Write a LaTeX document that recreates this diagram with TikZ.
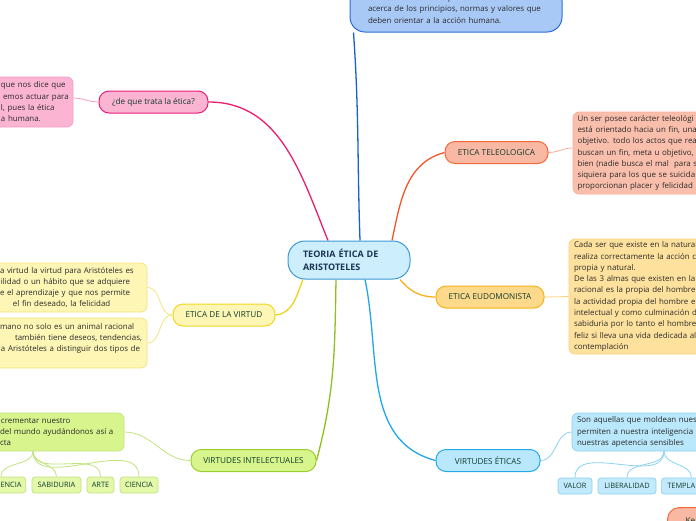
\documentclass[tikz,border=0pt]{standalone}
\usepackage{fontspec}
\setmainfont{Open Sans}
\usetikzlibrary{backgrounds}

\definecolor{labeltext}{HTML}{0F3B2D}
\definecolor{notetext}{HTML}{2B2B2B}
\definecolor{teoriafill}{HTML}{CDEEFC}
\definecolor{teoriaedge}{HTML}{3E9AD6}
\definecolor{teoriatext}{HTML}{1B3553}
\definecolor{deffill}{HTML}{A8C8F6}
\definecolor{defedge}{HTML}{2A6FD8}
\definecolor{defline}{HTML}{1A5FCF}
\definecolor{pinkfill}{HTML}{FBB4D2}
\definecolor{pinkedge}{HTML}{EA1D78}
\definecolor{pinkline}{HTML}{EA1D6E}
\definecolor{pinktwig}{HTML}{F59CC6}
\definecolor{teleofill}{HTML}{F9B8A3}
\definecolor{teleoedge}{HTML}{F4683A}
\definecolor{teleoline}{HTML}{F1572A}
\definecolor{teleotwig}{HTML}{F9AD95}
\definecolor{eudofill}{HTML}{FDD98B}
\definecolor{eudoedge}{HTML}{F5B31C}
\definecolor{eudonote}{HTML}{FEE19C}
\definecolor{eudotwig}{HTML}{FDD27C}
\definecolor{virtudfill}{HTML}{FDF6B4}
\definecolor{virtudedge}{HTML}{F1D722}
\definecolor{virtudline}{HTML}{EFD21C}
\definecolor{virtudtwig}{HTML}{F6E37C}
\definecolor{intelfill}{HTML}{D7F58C}
\definecolor{inteledge}{HTML}{9CCF2E}
\definecolor{intelline}{HTML}{8DC21E}
\definecolor{inteltwig}{HTML}{C1E27E}
\definecolor{intelleaf}{HTML}{E3F8A9}
\definecolor{eticasfill}{HTML}{B9E7FB}
\definecolor{eticasedge}{HTML}{21A9EA}
\definecolor{eticasline}{HTML}{1FA7E6}
\definecolor{eticastwig}{HTML}{8AD1F2}
\definecolor{eticasleaf}{HTML}{C3EAFC}

\newcommand{\frag}[2]{\hspace*{#1pt}\mbox{#2}}

\tikzset{
  topic/.style={draw, line width=1pt, rounded corners=10pt, minimum height=22pt,
    inner sep=0pt, text=labeltext, font=\fontsize{8.2}{9}\selectfont},
  note/.style={draw, line width=0.7pt, rounded corners=6pt, align=left,
    inner xsep=5pt, inner ysep=0pt, text=notetext, font=\fontsize{7.9}{11.3}\selectfont},
  leaf/.style={draw, line width=0.7pt, rounded corners=3pt, minimum height=16pt,
    inner xsep=4pt, inner ysep=0pt, text=labeltext, font=\fontsize{7.4}{8}\selectfont},
  branch/.style={line width=1.3pt},
  twig/.style={line width=0.8pt},
}

\begin{document}
\begin{tikzpicture}[x=1pt,y=-1pt]
\useasboundingbox (0,0) rectangle (696,520);
\clip (0,0) rectangle (696,520);

\node[draw=teoriaedge, fill=teoriafill, line width=1pt, rounded corners=17pt,
  minimum width=122pt, minimum height=38pt, text width=92pt, align=left,
  inner xsep=15pt, inner ysep=0pt, text=teoriatext,
  font=\fontsize{9}{13}\selectfont\bfseries] (teoria) at (349,260) {TEORIA ÉTICA DE\\ARISTOTELES};

\node[note, draw=defedge, fill=deffill, line width=1pt, rounded corners=15pt,
  minimum width=212pt, minimum height=46pt, text width=176pt, inner xsep=18pt] (defnote) at (456,9)
  {\mbox{Una teoría ética es aquella reflexión teórica}\\\mbox{acerca de los principios, normas y valores que}\\\mbox{deben orientar a la acción humana.}};

\node[topic, fill=pinkfill, draw=pinkedge, minimum width=109pt] (trata) at (153.5,102) {¿de que trata la ética?};
\node[note, fill=pinkfill, draw=pinktwig, minimum width=93pt, minimum height=50pt, text width=83pt] (tratanote) at (26.5,102)
  {\frag{16}{que nos dice que}\\\frag{18}{emos actuar para}\\\frag{16}{l, pues la ética}\\\frag{16}{a humana.}};

\node[topic, fill=teleofill, draw=teleoedge, minimum width=103pt] (teleo) at (496.5,152.5) {ETICA TELEOLOGICA};
\node[note, fill=teleofill!90!white, draw=teleotwig, minimum width=147pt, minimum height=82pt,
  text width=138pt, inner xsep=4.5pt] (teleonote) at (646.5,153)
  {\mbox{Un ser posee carácter teleológi}\\\mbox{está orientado hacia un fin, una}\\\mbox{objetivo. todo los actos que rea}\\\mbox{buscan un fin, meta u objetivo,}\\\mbox{bien (nadie busca el mal\ \ para s}\\\mbox{siquiera para los que se suicida}\\\mbox{proporcionan placer y felicidad}};

\node[topic, fill=eudofill, draw=eudoedge, minimum width=108pt] (eudo) at (490,297) {ETICA EUDOMONISTA};
\node[note, fill=eudonote, draw=eudotwig, minimum width=151pt, minimum height=115pt,
  text width=141pt] (eudonote) at (644.5,296.5)
  {\mbox{Cada ser que existe en la natural}\\\mbox{realiza correctamente la acción c}\\\mbox{propia y natural.}\\\mbox{De las 3 almas que existen en la}\\\mbox{racional es la propia del hombre}\\\mbox{la actividad propia del hombre e}\\\mbox{intelectual y como culminación d}\\\mbox{sabiduria por lo tanto el hombre}\\\mbox{feliz si lleva una vida dedicada al}\\\mbox{contemplación}};

\node[topic, fill=virtudfill, draw=virtudedge, minimum width=102pt] (virtud) at (224,315) {ETICA DE LA VIRTUD};
\node[note, fill=virtudfill, draw=virtudtwig, minimum width=167pt, minimum height=49pt, text width=157pt] (virtudnotea) at (63.5,287.5)
  {\frag{15}{a virtud la virtud para Aristóteles es}\\\frag{16}{ilidad o un hábito que se adquiere}\\\frag{15}{e el aprendizaje y que nos permite}\\\frag{28}{el fin deseado, la felicidad}};
\node[note, fill=virtudfill, draw=virtudtwig, minimum width=167pt, minimum height=50pt, text width=157pt] (virtudnoteb) at (63.5,343)
  {\frag{15}{mano no solo es un animal racional}\\\frag{30}{también tiene deseos, tendencias,}\\\frag{16}{a Aristóteles a distinguir dos tipos de}\\\mbox{}};

\node[topic, fill=intelfill, draw=inteledge, minimum width=125pt] (intel) at (253.5,460.5) {VIRTUDES INTELECTUALES};
\node[note, fill=intelfill, draw=inteltwig, minimum width=144pt, minimum height=38pt, text width=134pt] (intelnote) at (52,432)
  {\frag{16}{crementar nuestro}\\\frag{15}{del mundo ayudándonos así a}\\\frag{15}{cta}};
\coordinate (gfork) at (33,451);
\node[leaf, fill=intelleaf, draw=inteltwig, anchor=east] (encia) at (26,485) {\hspace*{20pt}ENCIA};
\node[leaf, fill=intelleaf, draw=inteltwig, minimum width=49pt] (sabiduria) at (56.5,485) {SABIDURIA};
\node[leaf, fill=intelleaf, draw=inteltwig, minimum width=27pt] (arte) at (100.5,485) {ARTE};
\node[leaf, fill=intelleaf, draw=inteltwig, minimum width=38pt] (ciencia) at (139,485) {CIENCIA};

\node[topic, fill=eticasfill, draw=eticasedge, minimum width=104pt] (eticas) at (488,460.5) {VIRTUDES ÉTICAS};
\node[note, fill=eticasfill, draw=eticastwig, minimum width=148pt, minimum height=38pt, text width=138pt] (eticasnote) at (646,432)
  {\mbox{Son aquellas que moldean nues}\\\mbox{permiten a nuestra inteligencia}\\\mbox{nuestras apetencia sensibles}};
\coordinate (cfork) at (664,451);
\node[leaf, fill=eticasleaf, draw=eticastwig, minimum width=34pt] (valor) at (575,486) {VALOR};
\node[leaf, fill=eticasleaf, draw=eticastwig, minimum width=58pt] (liberalidad) at (627,486) {LIBERALIDAD};
\node[leaf, fill=eticasleaf, draw=eticastwig, anchor=west, inner xsep=6pt] (templa) at (661,486) {TEMPLA\hspace*{20pt}};

\node[topic, fill=teleofill, draw=teleoedge, anchor=north west, rounded corners=12pt,
  minimum height=26pt, inner xsep=18pt] (ke) at (667,507) {Ke\hspace*{30pt}};

\begin{scope}[on background layer]
\draw[branch, pinkline] ([xshift=-21pt]teoria.north) to[out=112,in=0] (trata.east);
\draw[branch, defline] ([xshift=11pt]teoria.north) to[out=92,in=-86] ([xshift=4pt]defnote.south west);
\draw[branch, teleoline] ([xshift=43pt]teoria.north) to[out=78,in=195] (teleo.west);
\draw[branch, eudoedge] ([xshift=51pt]teoria.south) to[out=-50,in=180] (eudo.west);
\draw[branch, virtudline] ([xshift=-46pt]teoria.south) to[out=-112,in=5] (virtud.east);
\draw[branch, intelline] ([xshift=-13pt]teoria.south) to[out=-91,in=75] (intel.east);
\draw[branch, eticasline] ([xshift=16pt]teoria.south) to[out=-78,in=165] (eticas.west);

\draw[twig, pinktwig] (trata.west) to[out=180,in=0] ([yshift=4pt]tratanote.east);
\draw[twig, teleotwig] (teleo.east) to[out=0,in=180] ([yshift=5pt]teleonote.west);
\draw[twig, eudotwig] (eudo.east) -- (eudonote.west);
\draw[twig, virtudtwig] (virtud.west) to[out=180,in=0] (virtudnotea.east);
\draw[twig, virtudtwig] (virtud.west) to[out=180,in=0] (virtudnoteb.east);
\draw[twig, inteltwig] (intel.west) to[out=180,in=0] (intelnote.east);
\draw[twig, eticastwig] (eticas.east) to[out=0,in=180] (eticasnote.west);
\foreach \leafname in {encia,sabiduria,arte,ciencia}
  \draw[twig, inteltwig] (gfork) to[out=-90,in=90] (\leafname.north);
\foreach \leafname in {valor,liberalidad,templa}
  \draw[twig, eticastwig] (cfork) to[out=-90,in=90] (\leafname.north);
\end{scope}

\end{tikzpicture}
\end{document}
